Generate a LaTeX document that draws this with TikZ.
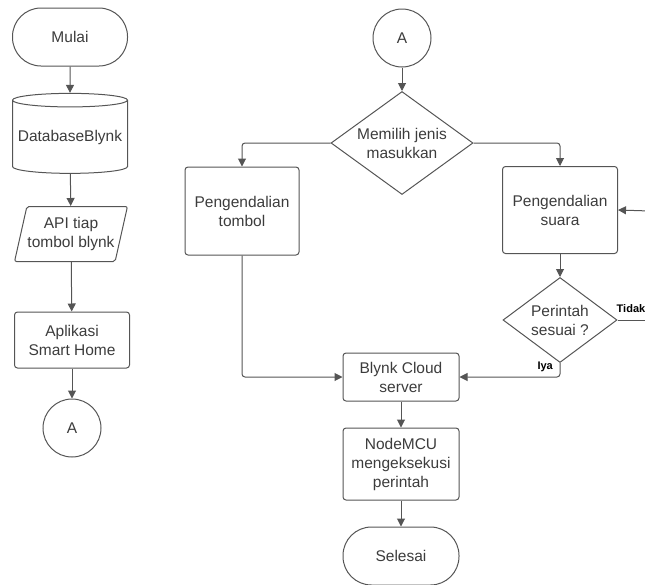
\documentclass[tikz,border=0pt]{standalone}
\usepackage{fontspec}
\setmainfont{Liberation Sans}
\usetikzlibrary{shapes.geometric,arrows.meta}
\definecolor{garis}{HTML}{555555}
\definecolor{teks}{HTML}{3C3C3C}

\begin{document}
\begin{tikzpicture}[x=1pt,y=-1pt,
  every node/.style={font=\fontsize{15.5}{19}\selectfont, text=teks, align=center},
  kotak/.style={draw=garis, line width=1pt, rounded corners=3pt, inner sep=0pt, minimum width=115pt},
  terminal/.style={draw=garis, line width=1pt, rounded corners=28.5pt, minimum width=115pt, minimum height=58pt},
  konektor/.style={draw=garis, line width=1pt, circle, inner sep=0pt, minimum size=58pt},
  keputusan/.style={draw=garis, line width=1pt, diamond, inner sep=0pt},
  label/.style={font=\fontsize{11}{13}\selectfont\bfseries, text=black, inner sep=1pt},
  panah/.style={draw=garis, line width=1pt, rounded corners=3pt, -{Triangle[length=8pt,width=8pt]}, color=garis},
  garisan/.style={draw=garis, line width=1pt, rounded corners=3pt}
]
\useasboundingbox (0,0) rectangle (645,584);

% kolom kiri
\node[terminal] (mulai) at (70,37) {Mulai};
\node[draw=garis, line width=1pt, cylinder, shape border rotate=90, aspect=0.13,
  minimum height=80pt, minimum width=115pt, inner sep=0pt] (db) at (70,137) {DatabaseBlynk};
\node[draw=garis, line width=1pt, trapezium, trapezium left angle=70, trapezium right angle=110,
  trapezium stretches=true, minimum width=113pt, minimum height=55pt, inner sep=0pt,
  rounded corners=2pt] (api) at (71,234) {API tiap\\tombol blynk};
\node[kotak, minimum height=56pt] (aplikasi) at (72,340) {Aplikasi\\Smart Home};
\node[konektor] (ka) at (72,428) {A};

\draw[panah] (mulai) -- (db);
\draw[panah] (db) -- (api);
\draw[panah] (api) -- (aplikasi);
\draw[panah] (aplikasi) -- (ka);

% kolom kanan
\node[konektor] (kb) at (402,38) {A};
\node[keputusan, minimum width=142pt, minimum height=103pt, aspect=1.38] (pilih) at (402,143) {Memilih jenis\\masukkan};
\node[kotak, minimum width=114pt, minimum height=88pt] (tombol) at (242,211) {Pengendalian\\tombol};
\node[kotak, minimum height=87pt] (suara) at (560,210) {Pengendalian\\suara};
\node[keputusan, minimum width=114pt, minimum height=85pt, aspect=1.34] (sesuai) at (560,320) {Perintah\\sesuai ?};
\node[kotak, minimum width=116pt, minimum height=48pt] (blynk) at (401,377) {Blynk Cloud\\server};
\node[kotak, minimum width=116pt, minimum height=72pt] (nodemcu) at (401,464) {NodeMCU\\mengeksekusi\\perintah};
\node[terminal, minimum width=116pt] (selesai) at (401,556) {Selesai};
\coordinate (masuk) at (650,211);
\coordinate (keluar) at (650,320);

\draw[panah] (kb) -- (pilih);
\draw[panah] (pilih.west) -| (tombol.north);
\draw[panah] (pilih.east) -| (suara.north);
\draw[panah] (masuk) -- (suara.east);
\draw[panah] (suara) -- (sesuai);
\draw[garisan] (sesuai.east) -- (keluar);
\node[label, anchor=west] (tidak) at ([xshift=-2pt,yshift=11pt]sesuai.east) {Tidak};
\draw[panah] (sesuai.south) |- (blynk.east);
\node[label, anchor=east] (iya) at ([xshift=-6pt,yshift=-4pt]sesuai.south) {Iya};
\draw[panah] (tombol.south) |- (blynk.west);
\draw[panah] (blynk) -- (nodemcu);
\draw[panah] (nodemcu) -- (selesai);
\end{tikzpicture}
\end{document}
